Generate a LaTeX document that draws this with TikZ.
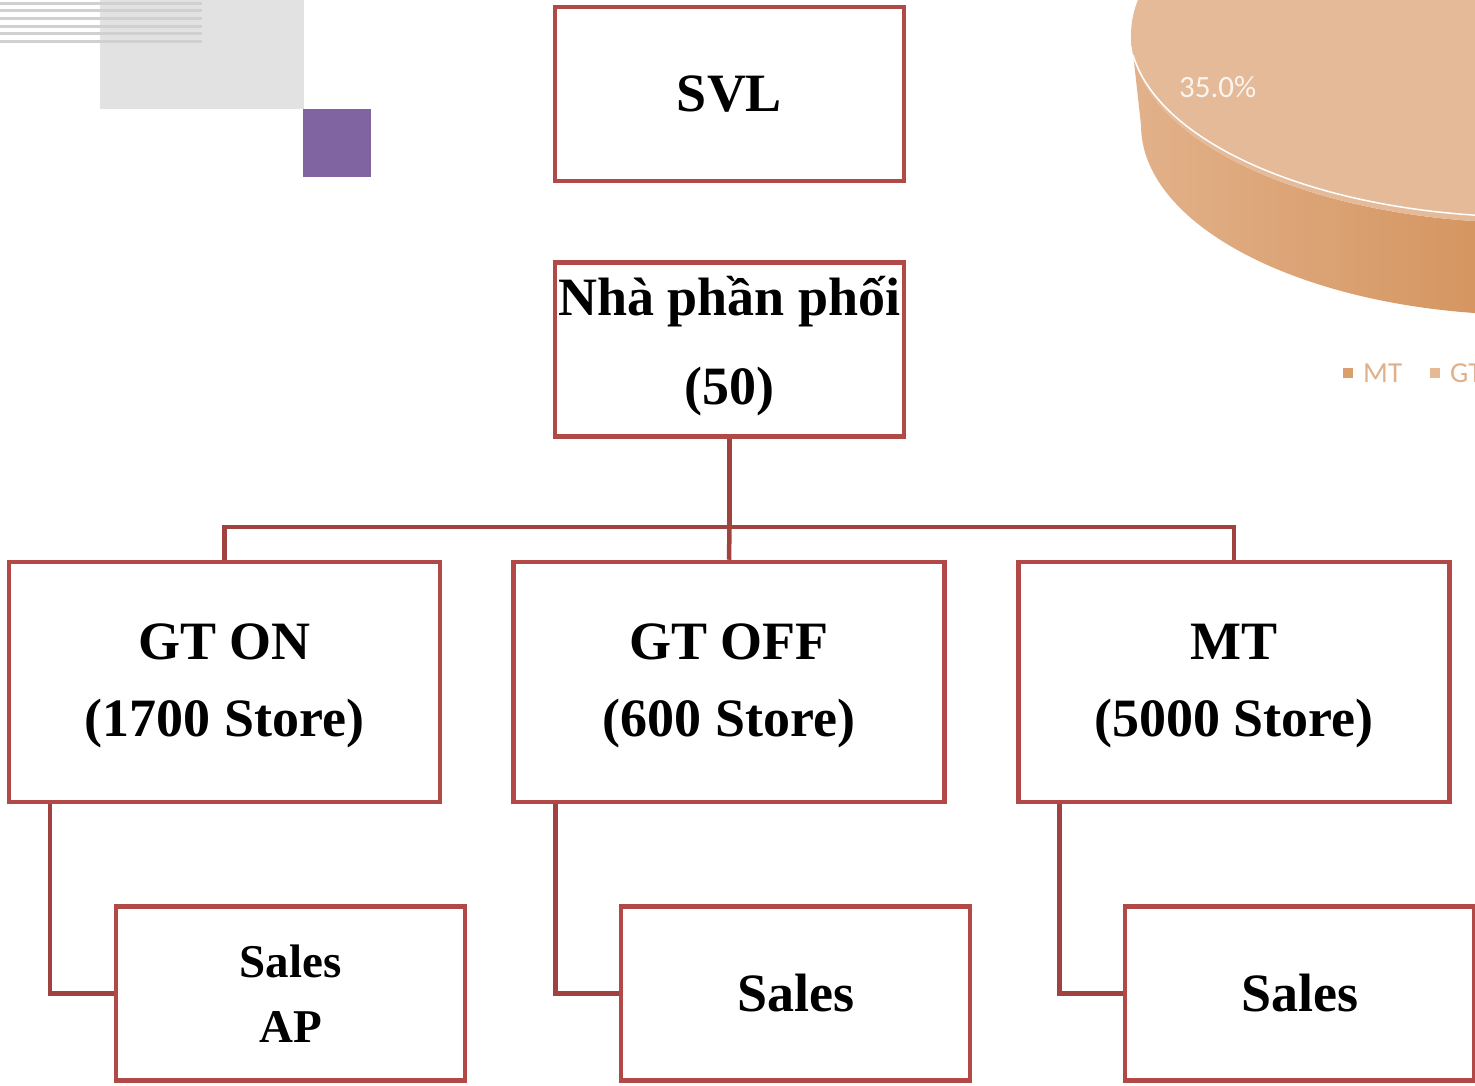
\documentclass[tikz,border=0pt]{standalone}
\usepackage{fontspec}
\setmainfont{Liberation Serif}
\newfontfamily\chartfont{Carlito}
\usepackage{tikz}
\usetikzlibrary{calc,positioning,shapes}

\definecolor{boxred}{RGB}{177,74,71}
\definecolor{linkred}{RGB}{160,66,64}
\definecolor{stripe}{RGB}{208,208,208}
\definecolor{panel}{RGB}{226,226,226}
\definecolor{violet}{RGB}{128,100,162}
\definecolor{pietop}{RGB}{228,186,152}
\definecolor{sidelight}{RGB}{226,177,138}
\definecolor{sidedark}{RGB}{213,150,97}
\definecolor{keymt}{RGB}{217,160,110}
\definecolor{keygt}{RGB}{228,185,148}
\definecolor{keytext}{RGB}{224,176,138}

\begin{document}
\begin{tikzpicture}[x=1pt,y=-1pt,>=latex]
    \tikzstyle{unit}=[draw=boxred,line width=4.5pt,rectangle,inner sep=0pt,align=center,minimum width=349pt,minimum height=174pt,font=\bfseries\fontsize{54}{77}\selectfont]
    \tikzstyle{store}=[unit,minimum width=431pt,minimum height=240pt,text depth=4pt]
    \tikzstyle{link}=[draw=linkred,line width=4.5pt]
    \tikzstyle{keybox}=[rectangle,inner sep=0pt,minimum size=10pt]
    \tikzstyle{keylabel}=[inner sep=0pt,anchor=base west,text=keytext,font=\chartfont\fontsize{29}{32}\selectfont]

    \useasboundingbox (0,0) rectangle (1475,1086);
    \clip (0,0) rectangle (1475,1086);

    % decoration
    \fill[panel] (100,0) rectangle (304,109);
    \foreach \y in {3.5,10.5,18.5,26.5,33.5,41.5}
        \draw[stripe,line width=2.7pt] (0,\y) -- (202,\y);
    \fill[violet] (303,109) rectangle (371,177);

    % pie chart in the corner
    \begin{scope}
        \clip (1131,35) arc[start angle=180,end angle=0,x radius=400,y radius=188] -- (1921,125) arc[start angle=0,end angle=180,x radius=390,y radius=190] -- cycle;
        \shade[left color=sidelight,right color=sidedark] (1131,-200) rectangle (1475,400);
    \end{scope}
    \fill[pietop] (1531,35) ellipse[x radius=400,y radius=188];
    \draw[white,line width=1.5pt] (1133,55) arc[start angle=172,end angle=0,x radius=400,y radius=188];
    \node[inner sep=0pt,anchor=base west,text=white!85!pietop,font=\chartfont\fontsize{31}{36}\selectfont] (pct) at (1179,98) {35.0\%};

    \node[keybox,fill=keymt] (mtbox) at (1347.5,372.5) {};
    \node[keylabel] (mtkey) at (1363,382) {MT};
    \node[keybox,fill=keygt] (gtbox) at (1435,372.5) {};
    \node[keylabel] (gtkey) at (1450,382) {GT};

    % chart
    \node[unit] (svl) at (729.5,94) {SVL};
    \node[unit,font=\bfseries\fontsize{54}{89}\selectfont,text depth=19pt] (npp) at (729.5,349.5) {Nhà phần phối\\(50)};

    \node[store] (gton) at (224.5,682) {GT ON\\(1700 Store)};
    \node[store] (gtoff) at (729,682) {GT OFF\\(600 Store)};
    \node[store] (mt) at (1234,682) {MT\\(5000 Store)};

    \node[unit,font=\bfseries\fontsize{47}{65}\selectfont] (salesap) at (290.5,993.5) {Sales\\AP};
    \node[unit] (salesoff) at (795.5,993.5) {Sales};
    \node[unit] (salesmt) at (1299.5,993.5) {Sales};

    \draw[link] (npp.south) -- ++(0,88) coordinate (hub);
    \draw[link] (gton.north) |- (hub) -| (mt.north);
    \draw[link] (hub) -- (gtoff.north);

    \draw[link] ([xshift=43pt]gton.south west) |- (salesap.west);
    \draw[link] ([xshift=44pt]gtoff.south west) |- (salesoff.west);
    \draw[link] ([xshift=43pt]mt.south west) |- (salesmt.west);

\end{tikzpicture}
\end{document}
